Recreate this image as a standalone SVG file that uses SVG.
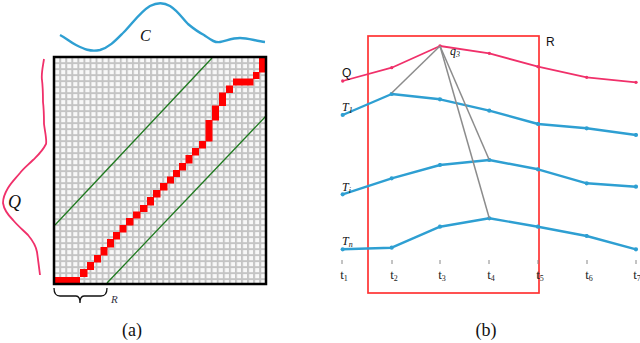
<svg xmlns="http://www.w3.org/2000/svg" width="640" height="343" viewBox="0 0 640 343">
<style>
.red{fill:#ff0000}
.grn{stroke:#1f7a1f;stroke-width:1.3;fill:none}
.it{font-family:"Liberation Serif",serif;font-style:italic}
.cap{font-family:"Liberation Serif",serif;font-size:18px;text-anchor:middle;fill:#111}
.blue{stroke:#2e9fd2;stroke-width:2.4;fill:none;stroke-linejoin:round}
.pink{stroke:#f0306a;stroke-width:1.8;fill:none;stroke-linejoin:round}
.gray{stroke:#8c8c8c;stroke-width:1.5;fill:none}
.tk{stroke:#888;stroke-width:1}
.tl{font-family:"Liberation Serif",serif;font-size:13px;text-anchor:middle;fill:#222}
.lb{font-family:"Liberation Sans",sans-serif;font-size:12px;fill:#111}
</style>
<defs>
<pattern id="grid" x="54" y="57" width="6.06" height="6" patternUnits="userSpaceOnUse">
<rect width="6.06" height="6" fill="#c4c4c4"/>
<rect x="1.1" y="1.1" width="4.1" height="4.1" fill="#f8f8f8"/>
</pattern>
<marker id="dotB" viewBox="0 0 6 6" refX="3" refY="3" markerWidth="5" markerHeight="5" markerUnits="userSpaceOnUse"><circle cx="3" cy="3" r="2.5" fill="#2e9fd2"/></marker>
<marker id="dotP" viewBox="0 0 6 6" refX="3" refY="3" markerWidth="4" markerHeight="4" markerUnits="userSpaceOnUse"><circle cx="3" cy="3" r="2.5" fill="#f0306a"/></marker>
</defs>

<g id="panel-a">
<g id="curve-C">
<path class="blue" stroke-width="3" d="M60,35 C66,38 70,42 76,45 C84,49 90,52 100,50 C110,47 116,40 124,32 C132,24 140,12 150,6 C156,3 163,2 170,6 C178,11 182,18 188,24 C194,29 198,32 204,35 C210,39 214,43 220,42 C226,41 232,38 240,38 C248,38 256,41 265,42"/>
<text class="it" x="140" y="41" font-size="16" fill="#111">C</text>
</g>
<g id="curve-Q">
<path class="pink" stroke-width="1.3" d="M44,59 C43,66 41,74 42,80 C43,88 43,95 43,102 C44,110 44,117 44,124 C45,132 47,140 46,144 C42,152 37,156 33,160 C28,165 23,169 20,173 C15,179 11,183 8,188 C5,193 3,198 3,203 C4,210 8,215 13,220 C18,226 23,230 28,235 C33,241 36,246 37,252 C38,259 39,267 40,275"/>
<text class="it" x="8" y="208" font-size="18" fill="#111">Q</text>
</g>
<g id="matrix">
<rect x="54" y="57" width="212" height="227" fill="url(#grid)"/>
</g>
<g id="band">
<line class="grn" x1="55" y1="225" x2="212" y2="58"/>
<line class="grn" x1="107" y1="283" x2="266" y2="116"/>
</g>
<g id="warp-path">
<rect class="red" x="54" y="277" width="26" height="7"/>
<rect class="red" x="80" y="269" width="7.5" height="8"/>
<rect class="red" x="87" y="262" width="7" height="8"/>
<rect class="red" x="94" y="255" width="7" height="7.5"/>
<rect class="red" x="100.5" y="247" width="7" height="8.5"/>
<rect class="red" x="107" y="239" width="7" height="8.5"/>
<rect class="red" x="113" y="232" width="7" height="7.5"/>
<rect class="red" x="119.5" y="225" width="7" height="7.5"/>
<rect class="red" x="126" y="218" width="7.5" height="7.5"/>
<rect class="red" x="133" y="211.5" width="7.5" height="7"/>
<rect class="red" x="140" y="205" width="7.5" height="7"/>
<rect class="red" x="147" y="197" width="7" height="8.5"/>
<rect class="red" x="153" y="190" width="7.5" height="7.5"/>
<rect class="red" x="160" y="183" width="7.5" height="7.5"/>
<rect class="red" x="167" y="176.5" width="7" height="7"/>
<rect class="red" x="173" y="170" width="7" height="7"/>
<rect class="red" x="179" y="163" width="7" height="7.5"/>
<rect class="red" x="185.5" y="155" width="7" height="8.5"/>
<rect class="red" x="192" y="148" width="7" height="7.5"/>
<rect class="red" x="199" y="141" width="7" height="7.5"/>
<rect class="red" x="205.5" y="120" width="7" height="21.5"/>
<rect class="red" x="212" y="105.5" width="7" height="15"/>
<rect class="red" x="219" y="92.5" width="7" height="13.5"/>
<rect class="red" x="226" y="85.5" width="7" height="7.5"/>
<rect class="red" x="233" y="78.5" width="20.5" height="7"/>
<rect class="red" x="253" y="72" width="6.5" height="7"/>
<rect class="red" x="259" y="58" width="7" height="14.5"/>
</g>
<rect x="54" y="57" width="212" height="227" fill="none" stroke="#000" stroke-width="2.5"/>
<g id="brace">
<path d="M54,288 C54,294 56,296 60,296 L76,296 C79,296 80,299 80,303 C80,299 81,296 84,296 L101,296 C105,296 107,294 107,288" fill="none" stroke="#111" stroke-width="1.3"/>
<text class="it" x="111" y="303" font-size="11" fill="#334">R</text>
</g>
<text class="cap" x="132" y="336">(a)</text>
</g>

<g id="panel-b">
<g id="window-R">
<rect x="368" y="36" width="171" height="257" fill="none" stroke="#ff3333" stroke-width="1.7"/>
<text class="lb" x="546" y="46" font-size="15">R</text>
</g>
<g id="axis">
<line class="tk" x1="342" y1="260" x2="342" y2="264"/>
<line class="tk" x1="392" y1="260" x2="392" y2="264"/>
<line class="tk" x1="440" y1="260" x2="440" y2="264"/>
<line class="tk" x1="489" y1="260" x2="489" y2="264"/>
<line class="tk" x1="538" y1="260" x2="538" y2="264"/>
<line class="tk" x1="587" y1="260" x2="587" y2="264"/>
<line class="tk" x1="636" y1="260" x2="636" y2="264"/>
<text class="tl" x="344" y="279">t<tspan font-size="8" dy="2">1</tspan></text>
<text class="tl" x="394" y="279">t<tspan font-size="8" dy="2">2</tspan></text>
<text class="tl" x="442" y="279">t<tspan font-size="8" dy="2">3</tspan></text>
<text class="tl" x="491" y="279">t<tspan font-size="8" dy="2">4</tspan></text>
<text class="tl" x="540" y="279">t<tspan font-size="8" dy="2">5</tspan></text>
<text class="tl" x="589" y="279">t<tspan font-size="8" dy="2">6</tspan></text>
<text class="tl" x="637" y="279">t<tspan font-size="8" dy="2">7</tspan></text>
</g>
<g id="series-Q">
<polyline class="pink" marker-start="url(#dotP)" marker-mid="url(#dotP)" marker-end="url(#dotP)" points="342.7,81 391.7,67.7 440,46 489.3,53.3 538,66.7 586.7,77.3 636,82.3"/>
<text class="lb" x="342" y="77" font-size="11">Q</text>
<text class="it" x="450" y="55" font-size="12" fill="#111">q<tspan font-size="8" dy="2">3</tspan></text>
</g>
<g id="series-T1">
<polyline class="blue" marker-start="url(#dotB)" marker-mid="url(#dotB)" marker-end="url(#dotB)" points="342.7,115 391.7,94 440,99.3 489.3,110.7 538,124 586.7,128.3 636,135"/>
<text class="it" x="342" y="111" font-size="12" fill="#111">T<tspan font-size="8" dy="2">1</tspan></text>
</g>
<g id="series-Ti">
<polyline class="blue" marker-start="url(#dotB)" marker-mid="url(#dotB)" marker-end="url(#dotB)" points="342.7,194.3 391.7,178.3 440,165 489.3,160 538,169.3 586.7,183.3 636,186.7"/>
<text class="it" x="342" y="191" font-size="12" fill="#111">T<tspan font-size="8" dy="2">i</tspan></text>
</g>
<g id="series-Tn">
<polyline class="blue" marker-start="url(#dotB)" marker-mid="url(#dotB)" marker-end="url(#dotB)" points="342.7,249.3 391.7,247.7 440,226.7 489.3,218.3 538,226.7 586.7,236 636,249.3"/>
<text class="it" x="342" y="245" font-size="12" fill="#111">T<tspan font-size="8" dy="2">n</tspan></text>
</g>
<g id="connectors">
<line class="gray" x1="440" y1="46" x2="391.7" y2="93"/>
<line class="gray" x1="440" y1="46" x2="489.3" y2="160"/>
<line class="gray" x1="440" y1="46" x2="489.3" y2="218.3"/>
</g>
<text class="cap" x="486" y="336">(b)</text>
</g>
</svg>
